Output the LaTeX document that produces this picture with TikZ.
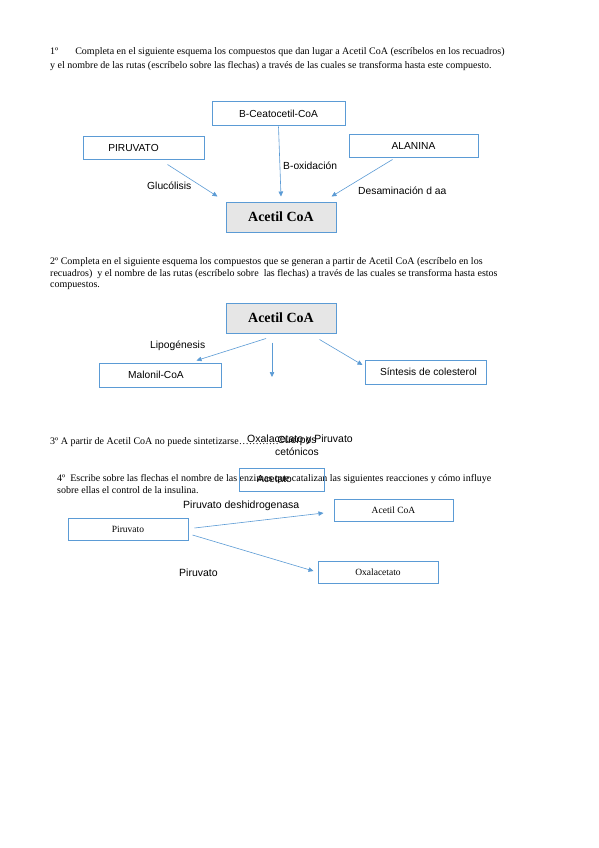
\documentclass[tikz,border=0pt]{standalone}
\usepackage{fontspec}
\setmainfont{Liberation Serif}
\setsansfont{Liberation Sans}
\usetikzlibrary{arrows.meta}
\definecolor{boxblue}{HTML}{5B9BD5}
\definecolor{boxgrey}{HTML}{E6E6E6}
\tikzset{
  hdr/.style={anchor=base west, inner sep=0pt, font=\fontsize{10}{12}\selectfont\rmfamily},
  lbl/.style={anchor=base west, inner sep=0pt, font=\fontsize{10.3}{12}\selectfont\sffamily},
  box/.style={draw=boxblue, line width=1pt, rectangle, inner sep=0pt, font=\fontsize{10.2}{12}\selectfont\sffamily},
  sbox/.style={draw=boxblue, line width=1pt, rectangle, inner sep=0pt, font=\fontsize{9.5}{11}\selectfont\rmfamily},
  mainbox/.style={draw=boxblue, line width=1pt, fill=boxgrey, rectangle, inner sep=0pt, font=\fontsize{14}{16}\selectfont\rmfamily\bfseries},
  arr/.style={draw=boxblue, line width=0.6pt, -{Triangle[length=5pt,width=4.5pt]}}
}
\begin{document}
\begin{tikzpicture}[x=1pt,y=-1pt]
\useasboundingbox[fill=white] (0,0) rectangle (599,848);

% Section 1
\node[hdr] (h1a) at (50,55) {1º\hspace{17pt}Completa en el siguiente esquema los compuestos que dan lugar a Acetil CoA (escríbelos en los recuadros)};
\node[hdr] (h1b) at (50,69) {y el nombre de las rutas (escríbelo sobre las flechas) a través de las cuales se transforma hasta este compuesto.};

\node[box, minimum width=133pt, minimum height=24pt] (bceto) at (278.5,114) {B-Ceatocetil-CoA};
\node[box, minimum width=121pt, minimum height=23pt] (piru) at (143.5,147.5) {\hspace*{-20pt}PIRUVATO};
\node[box, minimum width=129pt, minimum height=23pt] (alan) at (413.5,145.5) {ALANINA};
\node[mainbox, minimum width=110pt, minimum height=30pt] (acoa1) at (281,217) {Acetil CoA};

\draw[arr] ([xshift=85pt,yshift=-5pt]piru.south west) -- ([xshift=-8pt,yshift=5pt]acoa1.north west);
\draw[arr] (bceto.south) -- ([yshift=5pt]acoa1.north);
\draw[arr] ([xshift=44pt,yshift=-2pt]alan.south west) -- ([xshift=-5pt,yshift=5pt]acoa1.north east);

\node[lbl] (lbox) at (283,169.5) {B-oxidación};
\node[lbl] (lglu) at (147,189.5) {Glucólisis};
\node[lbl] (ldes) at (358,194.5) {Desaminación d aa};

% Section 2
\node[hdr] (h2a) at (50,264) {2º Completa en el siguiente esquema los compuestos que se generan a partir de Acetil CoA (escríbelo en los};
\node[hdr] (h2b) at (50,276) {recuadros)\ \ y el nombre de las rutas (escríbelo sobre\ \ las flechas) a través de las cuales se transforma hasta estos};
\node[hdr] (h2c) at (50,287) {compuestos.};

\node[mainbox, minimum width=110pt, minimum height=30pt] (acoa2) at (281,318) {Acetil CoA};
\node[box, minimum width=122pt, minimum height=24pt] (malo) at (160,375) {\hspace*{-8pt}Malonil-CoA};
\node[box, minimum width=121pt, minimum height=24pt] (sint) at (425.5,372) {\hspace*{6pt}Síntesis de colesterol};
\coordinate (mid) at (272,377);

\draw[arr] ([xshift=-15pt,yshift=-5pt]acoa2.south) -- ([xshift=98pt,yshift=2pt]malo.north west);
\draw[arr] ([xshift=-9pt,yshift=-9pt]acoa2.south) -- (mid);
\draw[arr] ([xshift=-17pt,yshift=-6pt]acoa2.south east) -- ([xshift=-2pt,yshift=7pt]sint.west);

\node[lbl] (llipo) at (150,348.5) {Lipogénesis};

% Section 3
\node[hdr] (h3) at (50,444) {3º A partir de Acetil CoA no puede sintetizarse…………};
\node[lbl, font=\fontsize{10.5}{12}\selectfont\sffamily] (loxpi) at (247,442) {Oxalacetato y Piruvato};
\node[lbl, anchor=center, align=center, font=\fontsize{10.3}{12.5}\selectfont\sffamily] (lcuer) at (297,446) {Cuerpos\\cetónicos};

% Section 4
\node[hdr] (h4a) at (57,481) {4º\ \ Escribe sobre las flechas\ el nombre de las enzimas que catalizan las siguientes reacciones y cómo influye};
\node[hdr] (h4b) at (57,493) {sobre ellas el control de la insulina.};
\node[box, minimum width=85pt, minimum height=23pt] (acet) at (281.5,479.5) {\hspace*{-14pt}Acetato};

\node[sbox, minimum width=119pt, minimum height=22pt] (acoa3) at (393.5,510) {Acetil CoA};
\node[sbox, minimum width=120pt, minimum height=22pt] (piru2) at (128,529) {Piruvato};
\node[sbox, minimum width=120pt, minimum height=22pt] (oxal) at (378,572) {Oxalacetato};

\draw[arr] ([xshift=6pt,yshift=1pt]piru2.east) -- ([xshift=-10pt,yshift=-3pt]acoa3.west);
\draw[arr] ([xshift=4pt,yshift=-6pt]piru2.east) -- ([xshift=-4pt,yshift=1pt]oxal.west);

\node[lbl, font=\fontsize{10.5}{12}\selectfont\sffamily] (lpdh) at (183,508.5) {Piruvato deshidrogenasa};
\node[lbl, font=\fontsize{10.5}{12}\selectfont\sffamily] (lpc) at (179,576) {Piruvato};
\end{tikzpicture}
\end{document}
